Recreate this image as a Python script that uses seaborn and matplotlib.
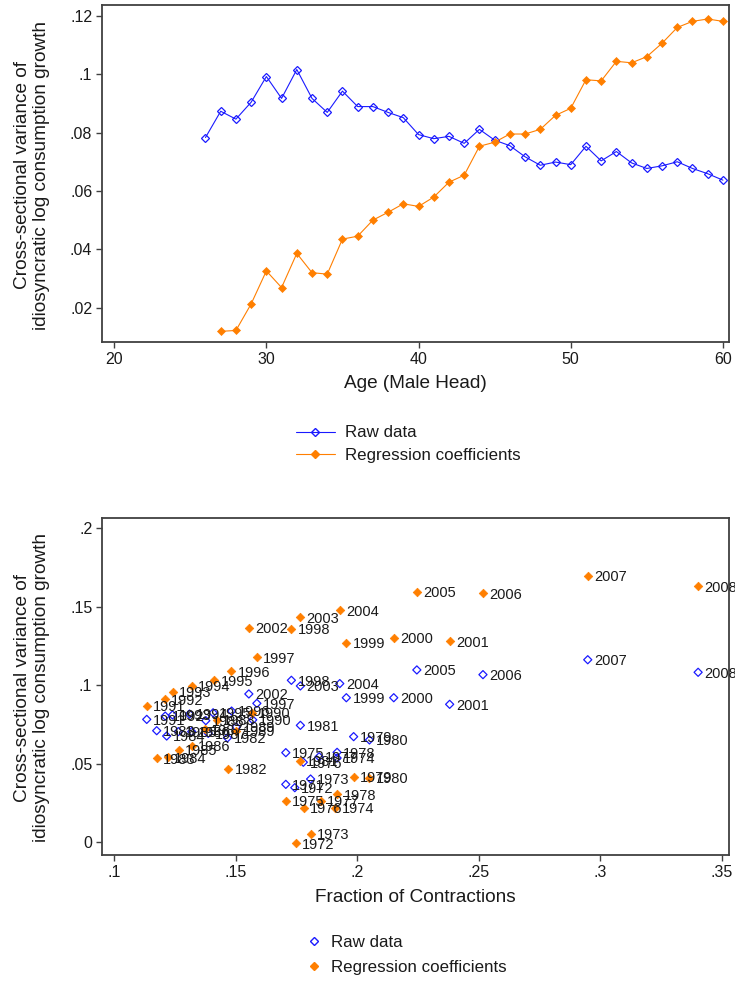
import numpy as np
import pandas as pd
import matplotlib
matplotlib.use("Agg")
import matplotlib.pyplot as plt
import seaborn as sns
from matplotlib.lines import Line2D

# ---------------- data: top panel (by age) ----------------
ages_raw = list(range(26, 61))
raw_by_age = [0.0783, 0.0873, 0.0846, 0.0904, 0.0992, 0.0917, 0.1016, 0.0917, 0.0869, 0.0942,
              0.0889, 0.0889, 0.0869, 0.0851, 0.0793, 0.0779, 0.0787, 0.0763, 0.0811, 0.0774,
              0.0755, 0.0717, 0.0688, 0.0699, 0.0690, 0.0753, 0.0703, 0.0735, 0.0696, 0.0677,
              0.0686, 0.0700, 0.0677, 0.0659, 0.0637]
ages_reg = list(range(27, 61))
reg_by_age = [0.0119, 0.0122, 0.0213, 0.0326, 0.0269, 0.0386, 0.0320, 0.0315, 0.0435, 0.0445,
              0.0500, 0.0527, 0.0556, 0.0547, 0.0579, 0.0630, 0.0654, 0.0753, 0.0767, 0.0795,
              0.0795, 0.0811, 0.0859, 0.0883, 0.0981, 0.0977, 0.1044, 0.1039, 0.1060, 0.1106,
              0.1160, 0.1181, 0.1189, 0.1181]

# ---------------- data: bottom panel (by year) ----------------
raw_years = list(range(1971, 2009))
raw_frac = [0.1706, 0.1743, 0.1808, 0.1917, 0.1706, 0.1778, 0.1843, 0.1917, 0.1985, 0.2050,
            0.1766, 0.1466, 0.1175, 0.1216, 0.1264, 0.1319, 0.1387, 0.1377, 0.1502, 0.1570,
            0.1134, 0.1210, 0.1240, 0.1310, 0.1407, 0.1483, 0.1587, 0.1729, 0.1955, 0.2150,
            0.2380, 0.1554, 0.1766, 0.1928, 0.2245, 0.2517, 0.2948, 0.3402]
raw_var = [0.0369, 0.0348, 0.0403, 0.0537, 0.0571, 0.0510, 0.0545, 0.0573, 0.0673, 0.0652,
           0.0745, 0.0665, 0.0711, 0.0677, 0.0705, 0.0705, 0.0694, 0.0775, 0.0735, 0.0780,
           0.0783, 0.0804, 0.0811, 0.0817, 0.0825, 0.0836, 0.0885, 0.1032, 0.0921, 0.0921,
           0.0879, 0.0945, 0.0996, 0.1011, 0.1098, 0.1068, 0.1163, 0.1083]

reg_years = list(range(1972, 2009))
reg_frac = [0.1748, 0.1808, 0.1910, 0.1706, 0.1781, 0.1851, 0.1918, 0.1985, 0.2050,
            0.1764, 0.1469, 0.1175, 0.1220, 0.1267, 0.1319, 0.1373, 0.1421, 0.1502, 0.1566,
            0.1134, 0.1209, 0.1242, 0.1319, 0.1412, 0.1482, 0.1587, 0.1729, 0.1955, 0.2150,
            0.2380, 0.1554, 0.1766, 0.1928, 0.2245, 0.2517, 0.2948, 0.3402]
reg_var = [-0.0006, 0.0053, 0.0221, 0.0263, 0.0221, 0.0263, 0.0306, 0.0418, 0.0412,
           0.0518, 0.0469, 0.0535, 0.0541, 0.0588, 0.0614, 0.0720, 0.0779, 0.0709, 0.0826,
           0.0870, 0.0911, 0.0960, 0.0996, 0.1032, 0.1089, 0.1178, 0.1361, 0.1272, 0.1301,
           0.1280, 0.1367, 0.1433, 0.1478, 0.1594, 0.1586, 0.1699, 0.1631]

series_names = ["Raw data", "Regression coefficients"]
top_xticks = [20, 30, 40, 50, 60]
top_yticks = [0.02, 0.04, 0.06, 0.08, 0.10, 0.12]
top_yticklabels = [".02", ".04", ".06", ".08", ".1", ".12"]
bot_xticks = [0.10, 0.15, 0.20, 0.25, 0.30, 0.35]
bot_xticklabels = [".1", ".15", ".2", ".25", ".3", ".35"]
bot_yticks = [0.0, 0.05, 0.10, 0.15, 0.20]
bot_yticklabels = ["0", ".05", ".1", ".15", ".2"]
ylab = "Cross-sectional variance of\nidiosyncratic log consumption growth"

# ---------------- styling ----------------
sns.set_theme(style="ticks")
plt.rcParams["font.family"] = ["Liberation Sans", "DejaVu Sans"]
BLUE = "#1a1aff"
ORANGE = "#ff7f00"
FRAME = "#404040"
TXT = "#1a1a1a"
FS_YEAR = 10.5
FS_TICK = 11.5
FS_LEG = 12.2
FS_TITLE = 13.7

W, H = 735, 982
fig = plt.figure(figsize=(W / 100, H / 100), dpi=100)
ax1 = fig.add_axes([102 / W, 1 - 342 / H, 627 / W, 337 / H])
ax2 = fig.add_axes([102 / W, 1 - 855 / H, 627 / W, 337 / H])

# ---------------- top panel ----------------
df_raw = pd.DataFrame({"age": ages_raw, "v": raw_by_age})
df_reg = pd.DataFrame({"age": ages_reg, "v": reg_by_age})
sns.lineplot(data=df_raw, x="age", y="v", ax=ax1, color=BLUE, lw=0.8,
             marker="D", ms=4.2, mec=BLUE, mfc="none", mew=0.9)
sns.lineplot(data=df_reg, x="age", y="v", ax=ax1, color=ORANGE, lw=0.8,
             marker="D", ms=4.4, mec=ORANGE, mfc=ORANGE, mew=0.5)
ax1.lines[0].set_markerfacecolor("none")

ax1.set_xlim(19.2, 60.4)
ax1.set_ylim(0.00825, 0.1237)
ax1.set_xticks(top_xticks)
ax1.set_xticklabels([str(t) for t in top_xticks])
ax1.set_yticks(top_yticks)
ax1.set_yticklabels(top_yticklabels)
ax1.set_xlabel("")
ax1.set_ylabel("")

# ---------------- bottom panel ----------------
df_braw = pd.DataFrame({"frac": raw_frac, "v": raw_var, "year": raw_years})
df_breg = pd.DataFrame({"frac": reg_frac, "v": reg_var, "year": reg_years})
sns.scatterplot(data=df_braw, x="frac", y="v", ax=ax2, marker="D", s=17,
                facecolor="none", edgecolor=BLUE, linewidth=0.9, zorder=3)
sns.scatterplot(data=df_breg, x="frac", y="v", ax=ax2, marker="D", s=19,
                color=ORANGE, edgecolor=ORANGE, linewidth=0.5, zorder=3)
ax2.collections[0].set_facecolor("none")

for d in (df_braw, df_breg):
    for xv, yv, yr in zip(d["frac"], d["v"], d["year"]):
        ax2.annotate(str(yr), (xv, yv), xytext=(4.5, -1), textcoords="offset points",
                     fontsize=FS_YEAR, color=TXT, va="center", ha="left",
                     annotation_clip=False, zorder=4)

ax2.set_xlim(0.095, 0.3529)
ax2.set_ylim(-0.0081, 0.2066)
ax2.set_xticks(bot_xticks)
ax2.set_xticklabels(bot_xticklabels)
ax2.set_yticks(bot_yticks)
ax2.set_yticklabels(bot_yticklabels)
ax2.set_xlabel("")
ax2.set_ylabel("")

for ax in (ax1, ax2):
    for sp in ax.spines.values():
        sp.set_visible(True)
        sp.set_color(FRAME)
        sp.set_linewidth(1.3)
    ax.tick_params(direction="out", length=4.5, width=1, color=FRAME,
                   labelsize=FS_TICK, labelcolor=TXT, pad=2.5)
    ax.tick_params(top=False, right=False)

# axis titles
fig.text(415 / W, 1 - 384 / H, "Age (Male Head)", ha="center", va="center",
         fontsize=FS_TITLE, color=TXT)
fig.text(415 / W, 1 - 898 / H, "Fraction of Contractions", ha="center", va="center",
         fontsize=FS_TITLE, color=TXT)
fig.text(32 / W, 1 - 175 / H, ylab, rotation=90, ha="center", va="center",
         fontsize=FS_TITLE, color=TXT, linespacing=1.12, multialignment="center")
fig.text(32 / W, 1 - 688 / H, ylab, rotation=90, ha="center", va="center",
         fontsize=FS_TITLE, color=TXT, linespacing=1.12, multialignment="center")

# legends
h_top = [Line2D([], [], color=BLUE, lw=0.8, marker="D", ms=4.2, mfc="none", mec=BLUE),
         Line2D([], [], color=ORANGE, lw=0.8, marker="D", ms=4.4, mfc=ORANGE, mec=ORANGE)]
fig.legend(h_top, series_names, loc="center left", bbox_to_anchor=(296 / W, 1 - 444 / H),
           frameon=False, fontsize=FS_LEG, handlelength=2.3, handletextpad=0.62,
           labelspacing=0.42, borderaxespad=0, borderpad=0, labelcolor=TXT)
h_bot = [Line2D([], [], ls="none", marker="D", ms=4.2, mfc="none", mec=BLUE),
         Line2D([], [], ls="none", marker="D", ms=4.4, mfc=ORANGE, mec=ORANGE)]
fig.legend(h_bot, series_names, loc="center left", bbox_to_anchor=(306 / W, 1 - 955 / H),
           frameon=False, fontsize=FS_LEG, handlelength=1.0, handletextpad=0.48,
           labelspacing=0.55, borderaxespad=0, borderpad=0, labelcolor=TXT)

fig.savefig("out.png", dpi=100, facecolor="white")
